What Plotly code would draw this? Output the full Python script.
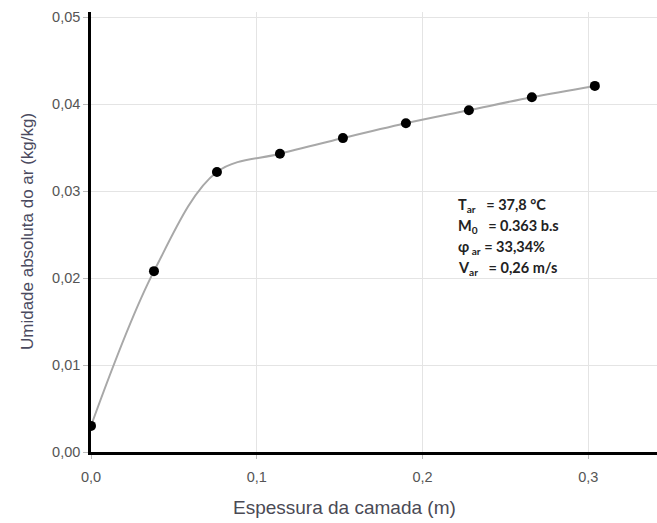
import plotly.graph_objects as go

espessura = [0.0, 0.038, 0.076, 0.114, 0.152, 0.190, 0.228, 0.266, 0.304]
umidade = [0.0030, 0.0208, 0.0322, 0.0343, 0.0361, 0.0378, 0.0393, 0.0408, 0.0421]

x_ticks = [0.0, 0.1, 0.2, 0.3]
x_tick_labels = ["0,0", "0,1", "0,2", "0,3"]
y_ticks = [0.0, 0.01, 0.02, 0.03, 0.04, 0.05]
y_tick_labels = ["0,00", "0,01", "0,02", "0,03", "0,04", "0,05"]

x_title = "Espessura da camada (m)"
y_title = "Umidade absoluta do ar (kg/kg)"

info_lines = [
    "T<sub>ar</sub>   = 37,8 °C",
    "M<sub>0</sub>   = 0.363 b.s",
    "φ<sub> ar</sub> = 33,34%",
    "V<sub>ar</sub>   = 0,26 m/s",
]

fig = go.Figure()
fig.add_trace(go.Scatter(
    x=espessura, y=umidade, mode="lines",
    line=dict(color="#a8a8a8", width=2, shape="spline", smoothing=1.0),
    hoverinfo="skip", showlegend=False,
))
fig.add_trace(go.Scatter(
    x=espessura, y=umidade, mode="markers",
    marker=dict(color="black", size=10),
    showlegend=False,
))

for i, t in enumerate(info_lines):
    fig.add_annotation(
        x=0.22, y=0.0284 - i * 0.00245, xref="x", yref="y",
        text="<b>" + t + "</b>", showarrow=False, xanchor="left", yanchor="middle",
        font=dict(family="Lato", size=14.5, color="#222"),
    )

fig.add_annotation(
    x=0.447, y=-0.125, xref="paper", yref="paper",
    text=x_title, showarrow=False, xanchor="center", yanchor="middle",
    font=dict(family="Liberation Sans", size=19, color="#4a4a55"),
)
fig.add_annotation(
    x=-0.113, y=0.5, xref="paper", yref="paper",
    text=y_title, showarrow=False, xanchor="center", yanchor="middle",
    textangle=-90,
    font=dict(family="Liberation Sans", size=17, color="#4a4a5e"),
)

fig.update_layout(
    width=657, height=523,
    margin=dict(l=91, r=0, t=12, b=71),
    paper_bgcolor="white", plot_bgcolor="white",
    font=dict(family="Liberation Sans", size=14.5, color="#555"),
    xaxis=dict(
        range=[0, 0.3415], tickvals=x_ticks, ticktext=x_tick_labels,
        showgrid=True, gridcolor="#e4e4e4", gridwidth=1,
        showline=True, linecolor="black", linewidth=2.5,
        ticks="outside", ticklen=4, tickcolor="#bbb",
        ticklabelstandoff=6,
        zeroline=False,
    ),
    yaxis=dict(
        range=[0, 0.0506], tickvals=y_ticks, ticktext=y_tick_labels,
        showgrid=True, gridcolor="#e4e4e4", gridwidth=1,
        showline=True, linecolor="black", linewidth=2.5,
        ticks="outside", ticklen=5, tickcolor="#bbb",
        zeroline=False,
    ),
)

fig.write_html("out.html")
